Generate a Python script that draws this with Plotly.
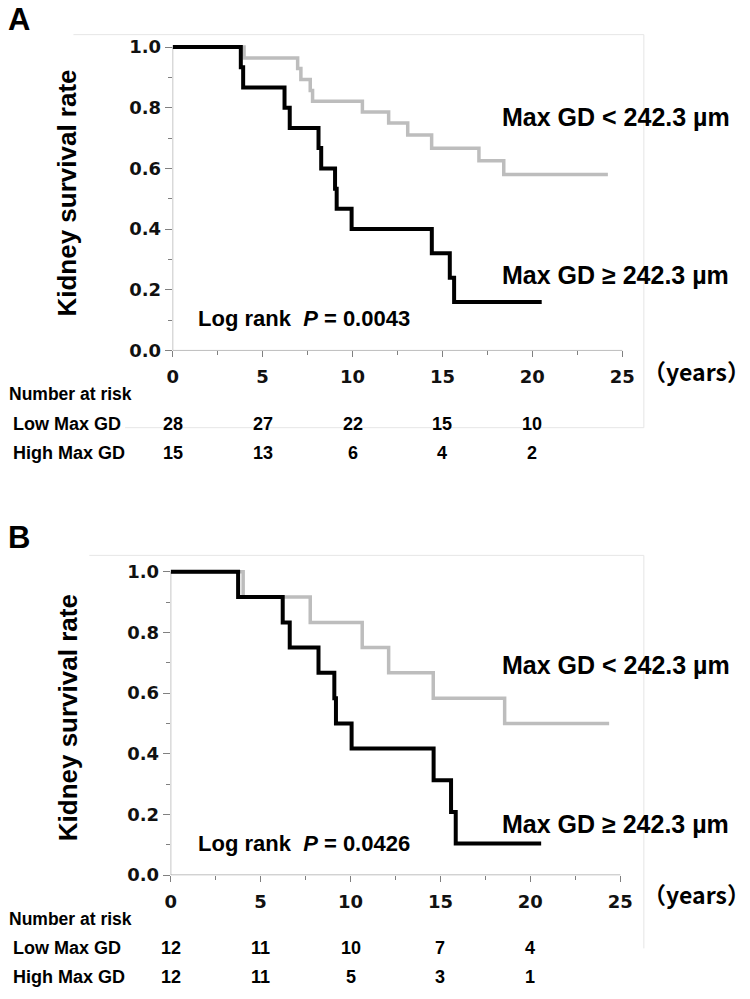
import plotly.graph_objects as go

# ---------------- data ----------------
# Panel A (all patients)
a_low_t = [0, 3.97, 6.95, 7.13, 7.65, 7.78, 10.55, 12.01, 13.07, 14.40, 17.03, 18.41, 24.2]
a_low_s = [1.0, 0.964, 0.929, 0.893, 0.857, 0.821, 0.786, 0.750, 0.710, 0.666, 0.625, 0.580, 0.580]
a_high_t = [0, 3.79, 3.92, 6.22, 6.51, 8.11, 8.26, 9.03, 9.12, 9.95, 14.41, 15.41, 15.65, 20.52]
a_high_s = [1.0, 0.933, 0.867, 0.800, 0.733, 0.667, 0.600, 0.533, 0.467, 0.400, 0.320, 0.240, 0.160, 0.160]

# Panel B (matched patients)
b_low_t = [0, 4.03, 7.76, 10.65, 12.12, 14.60, 18.57, 24.38]
b_low_s = [1.0, 0.917, 0.833, 0.750, 0.667, 0.583, 0.500, 0.500]
b_high_t = [0, 3.75, 6.23, 6.62, 8.22, 9.10, 9.19, 10.06, 14.62, 15.59, 15.85, 20.6]
b_high_s = [1.0, 0.917, 0.833, 0.750, 0.667, 0.583, 0.500, 0.417, 0.3125, 0.208, 0.104, 0.104]

x_ticks = [0, 5, 10, 15, 20, 25]
y_ticks = [0.0, 0.2, 0.4, 0.6, 0.8, 1.0]
y_ticklabels = ["0.0", "0.2", "0.4", "0.6", "0.8", "1.0"]

risk_times = [0, 5, 10, 15, 20]
a_risk_low = [28, 27, 22, 15, 10]
a_risk_high = [15, 13, 6, 4, 2]
b_risk_low = [12, 11, 10, 7, 4]
b_risk_high = [12, 11, 5, 3, 1]

label_low = "Max GD < 242.3 µm"
label_high = "Max GD ≥ 242.3 µm"
p_a = "0.0043"
p_b = "0.0426"

# ---------------- helpers ----------------
W, H = 750, 999
def px(x):
    return x / W
def py(y):
    return 1 - y / H

GRAY = "#bdbdbd"
BLACK = "#000000"
AXC = "#808080"
ARIAL = "Liberation Sans, Arial, sans-serif"
TICKF = "DejaVu Sans, Verdana, sans-serif"

fig = go.Figure()

for (t, s, col, w, xa, ya) in [
    (a_low_t, a_low_s, GRAY, 3.5, "x", "y"),
    (a_high_t, a_high_s, BLACK, 4, "x", "y"),
    (b_low_t, b_low_s, GRAY, 3.5, "x2", "y2"),
    (b_high_t, b_high_s, BLACK, 4, "x2", "y2"),
]:
    fig.add_trace(go.Scatter(x=t, y=s, mode="lines", line=dict(shape="hv", color=col, width=w),
                             xaxis=xa, yaxis=ya, showlegend=False, hoverinfo="skip"))

def xaxis_cfg(dom):
    return dict(domain=dom, range=[0, 26.2], showline=False, showgrid=False, zeroline=False,
                tickvals=x_ticks, ticks="outside", ticklen=6, tickwidth=1, tickcolor=AXC,
                minor=dict(dtick=2.5, tick0=0, ticks="outside", ticklen=4, tickwidth=1, tickcolor=AXC),
                tickfont=dict(family=TICKF, size=18, color="#111", weight="bold"),
                ticklabelstandoff=4)

def yaxis_cfg(dom, top):
    return dict(domain=dom, range=[0, top], showline=False, showgrid=False, zeroline=False,
                tickvals=y_ticks, ticktext=y_ticklabels, ticks="outside", ticklen=7, tickwidth=1,
                tickcolor=AXC,
                minor=dict(dtick=0.1, tick0=0, ticks="outside", ticklen=4, tickwidth=1, tickcolor=AXC),
                tickfont=dict(family=TICKF, size=18, color="#111", weight="bold"))

fig.update_layout(
    width=W, height=H, margin=dict(l=0, r=0, t=0, b=0),
    paper_bgcolor="white", plot_bgcolor="white",
    xaxis=dict(anchor="y", **xaxis_cfg([px(168), px(643)])),
    yaxis=dict(anchor="x", **yaxis_cfg([py(354), py(35)], (354 - 35) / 306.5)),
    xaxis2=dict(anchor="y2", **xaxis_cfg([px(166), px(641)])),
    yaxis2=dict(anchor="x2", **yaxis_cfg([py(884), py(561)], (884 - 561) / 306.5)),
)

shapes = []
# faint outer frames
frame_c = "#e6e6e6"
shapes += [
    dict(type="line", xref="paper", yref="paper", x0=px(68), x1=px(643), y0=py(35), y1=py(35), line=dict(color=frame_c, width=1)),
    dict(type="line", xref="paper", yref="paper", x0=px(643), x1=px(643), y0=py(35), y1=py(432), line=dict(color=frame_c, width=1)),
    dict(type="line", xref="paper", yref="paper", x0=px(120), x1=px(643), y0=py(432), y1=py(432), line=dict(color=frame_c, width=1)),
    dict(type="line", xref="paper", yref="paper", x0=px(84), x1=px(643), y0=py(561), y1=py(561), line=dict(color=frame_c, width=1)),
    dict(type="line", xref="paper", yref="paper", x0=px(643), x1=px(643), y0=py(561), y1=py(958), line=dict(color=frame_c, width=1)),
]
# axis lines (span of the tick ranges)
for xr, yr in [("x", "y"), ("x2", "y2")]:
    shapes.append(dict(type="line", xref=xr, yref=yr, x0=min(x_ticks), x1=max(x_ticks), y0=0, y1=0,
                       line=dict(color=AXC, width=1), layer="below"))
    shapes.append(dict(type="line", xref=xr, yref=yr, x0=0, x1=0, y0=min(y_ticks), y1=max(y_ticks),
                       line=dict(color=AXC, width=1), layer="below"))
fig.update_layout(shapes=shapes)

ann = []
def text(x, y, s, size, anchor="left", bold=True, family=ARIAL, xref="paper", angle=0, yanchor="middle"):
    ann.append(dict(x=x, y=y, xref=xref, yref="paper", text=s, showarrow=False,
                    xanchor=anchor, yanchor=yanchor, textangle=angle,
                    font=dict(family=family, size=size, color="#000", weight="bold" if bold else "normal")))

panels = [
    # letter_y, title_y, low_y, high_y, logrank_y, years_y, nar_y, rowlow_y, rowhigh_y, xref, p, risk_low, risk_high, letter
    (15, 195, 118, 278, 322, 375, 398, 428, 458, "x", p_a, a_risk_low, a_risk_high, "A"),
    (543, 725, 672, 832, 852, 903, 928, 958, 987, "x2", p_b, b_risk_low, b_risk_high, "B"),
]
for (ly, ty, lowy, highy, lry, yy, nary, rly, rhy, xr, p, rl, rh, letter) in panels:
    if letter == "A":
        text(px(0), py(0), letter, 31, yanchor="top")
    else:
        text(px(0), py(ly), letter, 31)
    text(px(62), py(ty), "Kidney survival rate", 26, anchor="center", angle=-90)
    text(px(498), py(lowy), label_low, 25)
    text(px(498), py(highy), label_high, 25)
    text(px(192), py(lry), "Log rank  <i>P</i> = " + p, 22)
    text(px(640), py(yy), "（years）", 23, family="Noto Sans CJK JP, Liberation Sans, sans-serif")
    text(px(1), py(nary), "Number at risk", 17.5)
    text(px(5), py(rly), "Low Max GD", 18)
    text(px(5), py(rhy), "High Max GD", 18)
    for t, n in zip(risk_times, rl):
        text(t, py(rly), str(n), 18, anchor="center", xref=xr)
    for t, n in zip(risk_times, rh):
        text(t, py(rhy), str(n), 18, anchor="center", xref=xr)

fig.update_layout(annotations=ann)
fig.write_html("out.html", config={"displayModeBar": False},
               post_script="document.body.style.margin='0';document.body.style.overflow='hidden';")
